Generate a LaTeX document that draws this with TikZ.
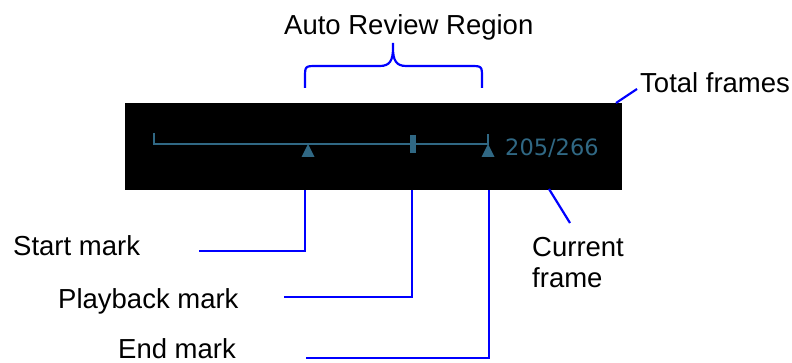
\documentclass[tikz,border=0pt]{standalone}
\usepackage{fontspec}
\setmainfont{Liberation Sans}
\newfontfamily\panelfont{DejaVu Sans}
\definecolor{leadblue}{RGB}{0,0,255}
\definecolor{panelblue}{RGB}{48,104,132}
\begin{document}
\begin{tikzpicture}[x=1pt,y=-1pt,
  lead/.style={draw=leadblue,line width=2.2pt},
  lbl/.style={font=\fontsize{27.5}{31}\selectfont, inner sep=0pt, anchor=base west}]
\useasboundingbox (0,0) rectangle (792,363);
% panel
\node[fill=black, inner sep=0pt, minimum width=497pt, minimum height=87pt, anchor=north west] (panel) at (125,103) {};
\draw[panelblue, line width=2pt] (154,133) -- (154,144) -- (488,144) -- (488,134);
\fill[panelblue] (308,144) -- (314.5,157) -- (301.5,157) -- cycle;
\fill[panelblue] (410,135) rectangle (416,153);
\fill[panelblue] (488,144) -- (494.5,157) -- (481.5,157) -- cycle;
\node[font=\panelfont\fontsize{22.5}{24}\selectfont, text=panelblue, inner sep=0pt, anchor=base west] (count) at (505,155.5) {205/266};
% labels
\node[lbl] (title) at (284,35) {Auto Review Region};
\node[lbl] (total) at (640,93) {Total frames};
\node[lbl] (start) at (13,256) {Start mark};
\node[lbl] (play) at (58,308) {Playback mark};
\node[lbl] (endm) at (118,358) {End mark};
\node[lbl, align=left, anchor=north west] (cur) at (532,237) {Current\\frame};
% brace
\draw[lead] (305,88) -- (305,78) .. controls (305,66) .. (317,66) -- (380,66)
  .. controls (390,66) and (393,60) .. (393,48) -- (393,43)
  (393,48) .. controls (393,60) and (396,66) .. (406,66) -- (470,66)
  .. controls (482,66) .. (482,78) -- (482,88);
% connector end points
\coordinate (sTop) at (305,190);
\coordinate (pTop) at (412,190);
\coordinate (eTop) at (489,190);
\coordinate (sFoot) at (199,251);
\coordinate (pFoot) at (284,297);
\coordinate (eFoot) at (306,358);
\coordinate (tFrom) at (616,103);
\coordinate (tTo) at (637,89);
\coordinate (cFrom) at (549,189);
\coordinate (cTo) at (570,223);
\draw[lead] (sTop) |- (sFoot);
\draw[lead] (pTop) |- (pFoot);
\draw[lead] (eTop) |- (eFoot);
\draw[lead] (tFrom) -- (tTo);
\draw[lead] (cFrom) -- (cTo);
\end{tikzpicture}
\end{document}
